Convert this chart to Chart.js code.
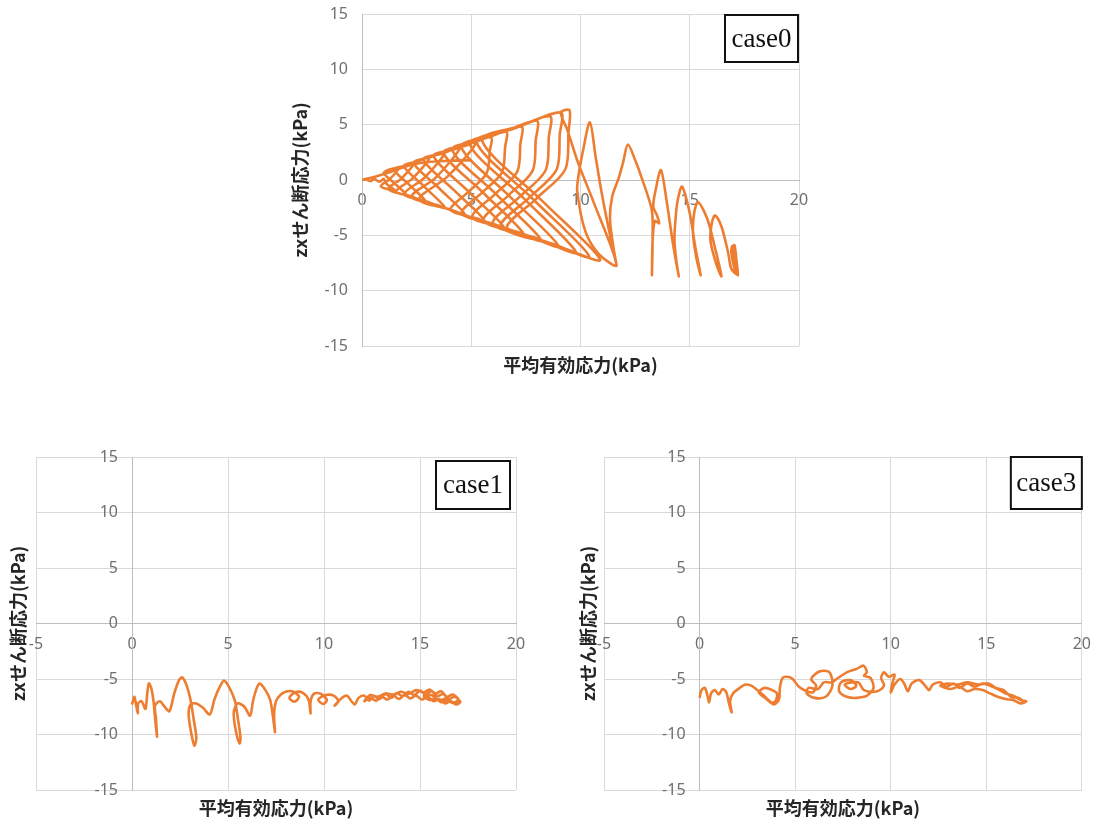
<!DOCTYPE html>
<html>
<head>
<meta charset="utf-8">
<script src="https://cdn.jsdelivr.net/npm/chart.js@4/dist/chart.umd.min.js"></script>
<style>
  html, body { margin: 0; padding: 0; background: #ffffff; }
  body { position: relative; width: 1102px; height: 828px; overflow: hidden; }
  canvas { position: absolute; }
</style>
</head>
<body>
<canvas id="chartCase0" width="540" height="390" style="left:280px;top:0px"></canvas>
<canvas id="chartCase1" width="560" height="388" style="left:0px;top:440px"></canvas>
<canvas id="chartCase3" width="532" height="388" style="left:570px;top:440px"></canvas>
<script>
// Stress paths: [mean effective stress p' (kPa), zx shear stress (kPa)]
const case0Path = [
  // initial state and first small cycles near p' = 17
  [17.1,-7.0],[16.95,-6.0],[17.05,-5.9],[17.15,-7.5],[17.2,-8.6],[17.05,-8.0],[16.9,-6.5],[16.95,-6.0],
  [17.1,-7.8],[17.15,-8.5],[16.9,-8.0],[16.75,-6.5],
  // growing cycles
  [16.45,-4.2],[16.16,-3.2],[16.0,-4.0],[15.95,-5.5],[16.2,-7.5],[16.45,-8.7],[16.2,-6.5],[15.8,-3.5],
  [15.38,-2.0],[15.2,-3.0],[15.15,-4.8],[15.3,-7.0],[15.5,-8.6],[15.25,-6.0],[15.0,-3.0],[14.65,-0.6],
  [14.45,-1.8],[14.35,-3.5],[14.3,-5.5],[14.4,-7.5],[14.5,-8.7],[14.25,-6.0],[13.95,-2.0],[13.68,0.9],
  [13.45,-0.8],[13.33,-2.4],[13.5,-3.2],[13.6,-3.9],[13.4,-3.7],[13.3,-5.5],[13.27,-8.6],[13.3,-5.0],
  [13.26,-2.7],[12.8,0.2],[12.5,1.8],[12.17,3.2],[11.95,1.6],[11.75,0.2],[11.45,-1.5],[11.35,-3.5],
  [11.5,-6.0],[11.65,-7.7],[11.3,-4.5],[11.0,-1.5],[10.7,2.0],[10.43,5.2],[10.1,2.5],[9.9,0.3],
  [9.85,-1.0],[10.2,-4.5],[10.8,-6.6],[11.65,-7.7],[10.6,-2.0],[9.9,1.5],[9.4,4.5],[9.1,6.1],
  [9.5,6.3],
  // butterfly cycles shrinking toward the origin
  [9.45,4.3],[9.3,0.95],[7.97,-1.7],[6.64,-4.38],[8.77,-5.8],[10.9,-7.2],[8.2,-1.8],[5.49,3.6],[7.3,4.9],[9.1,6.1],
  [9.05,4.1],[8.9,0.91],[7.63,-1.64],[6.35,-4.19],[8.4,-5.55],[10.4,-6.9],[7.82,-1.72],[5.24,3.45],[6.9,4.6],[8.6,5.75],
  [8.55,3.87],[8.4,0.86],[7.2,-1.55],[5.99,-3.95],[7.9,-5.2],[9.8,-6.55],[7.37,-1.6],[4.94,3.25],[6.5,4.35],[8.0,5.35],
  [7.95,3.6],[7.8,0.8],[6.68,-1.43],[5.56,-3.67],[7.3,-4.8],[9.0,-6.0],[6.77,-1.5],[4.54,3.0],[5.9,3.95],[7.3,4.8],
  [7.25,3.3],[7.1,0.73],[6.08,-1.3],[5.06,-3.34],[6.6,-4.35],[8.2,-5.45],[6.17,-1.35],[4.13,2.72],[5.4,3.6],[6.6,4.35],
  [6.55,3.0],[6.4,0.66],[5.48,-1.17],[4.56,-3.01],[6.0,-3.95],[7.4,-4.9],[5.57,-1.2],[3.73,2.45],[4.8,3.15],[5.9,3.85],
  [5.85,2.65],[5.7,0.59],[4.88,-1.05],[4.06,-2.68],[5.3,-3.5],[6.5,-4.3],[4.89,-1.07],[3.28,2.15],[4.2,2.75],[5.2,3.35],
  [3.91,0.3],[2.62,-1.75],[4.1,-2.7],[5.6,-3.7],[4.21,-0.92],[2.82,1.85],[3.7,2.4],[4.5,2.97],
  [3.39,0.24],[2.27,-1.5],[3.5,-2.3],[4.7,-3.1],[3.54,-0.77],[2.37,1.55],[3.1,2.05],[3.8,2.5],
  [2.86,0.2],[1.92,-1.27],[2.9,-1.9],[3.8,-2.5],[2.86,-0.62],[1.92,1.25],[2.5,1.65],[3.1,2.05],
  [2.33,0.17],[1.56,-1.03],[2.2,-1.45],[2.9,-1.9],[2.18,-0.47],[1.46,0.96],[1.9,1.25],[2.4,1.58],
  [1.8,0.13],[1.21,-0.8],[2.0,-1.3],[1.5,-0.32],[1.0,0.66],[1.7,1.1],
  [1.28,0.1],[0.86,-0.57],[1.5,-0.95],[1.1,-0.3],[1.0,0.1],[0.8,-0.15],[0.55,0.1],
  [0.4,-0.1],[0.2,0.05],[0.0,0.0],
  // final stage
  [0.6,0.3],[1.4,0.8],[2.4,1.45],[3.5,1.7],[5.0,1.8]
];

const case1Path = [
  [0.0,-7.3],[0.12,-6.6],[0.2,-7.2],[0.3,-8.1],[0.32,-7.2],[0.5,-7.0],[0.7,-7.7],[0.8,-6.2],
  [0.88,-5.4],[1.0,-5.8],[1.12,-7.0],[1.2,-8.5],[1.3,-10.2],[1.25,-8.6],[1.2,-7.4],[1.45,-7.0],
  [1.7,-7.5],[1.95,-7.9],[2.2,-6.3],[2.45,-5.1],[2.62,-4.85],[2.85,-5.6],[3.05,-6.9],[3.2,-8.5],
  [3.35,-10.3],[3.25,-11.0],[3.1,-10.0],[2.95,-8.2],[3.05,-7.3],[3.35,-7.2],[3.7,-7.6],[4.05,-8.2],
  [4.3,-6.8],[4.6,-5.6],[4.8,-5.15],[5.05,-5.7],[5.35,-6.9],[5.5,-8.4],[5.65,-10.3],[5.6,-10.8],
  [5.4,-9.6],[5.3,-8.0],[5.5,-7.2],[5.85,-7.5],[6.15,-8.3],[6.3,-7.0],[6.5,-5.8],[6.65,-5.4],
  [6.95,-6.0],[7.2,-6.9],[7.35,-8.5],[7.45,-9.8],[7.4,-8.3],[7.5,-7.0],[7.75,-6.4],[8.0,-6.15],
  [8.35,-6.1],[8.7,-6.6],[8.45,-7.05],[8.2,-6.7],[8.5,-6.2],[8.9,-6.25],[9.2,-6.9],[9.3,-8.1],
  [9.3,-7.0],[9.5,-6.3],[9.85,-6.35],[10.15,-6.9],[9.95,-7.25],[9.7,-6.85],[10.1,-6.45],[10.5,-6.5],
  [10.75,-7.0],[10.55,-7.4],[10.9,-6.75],[11.2,-6.5],[11.45,-7.05],[11.6,-7.3],[11.8,-6.7],[12.1,-6.5],
  [12.35,-6.95],[12.6,-6.55],[12.9,-6.8],[13.2,-6.35],[13.5,-6.7],[13.8,-6.3],[14.1,-6.55],[14.4,-6.15],
  [14.7,-6.45],[15.0,-6.05],[15.3,-6.4],[15.6,-6.1],[15.9,-6.55],[16.2,-6.35],[16.5,-6.8],[16.8,-6.6],
  [17.1,-7.05],[16.9,-7.3],[16.6,-7.0],[16.3,-7.2],[16.0,-6.8],[15.7,-7.0],[15.4,-6.6],[15.1,-6.85],
  [14.8,-6.5],[14.5,-6.75],[14.2,-6.45],[13.9,-6.8],[13.6,-6.5],[13.3,-6.85],[13.0,-6.6],[12.7,-6.95],
  [12.4,-6.7],[12.1,-7.0],[12.4,-6.45],[12.8,-6.6],[13.2,-6.3],[13.6,-6.4],[14.0,-6.15],[14.4,-6.35],
  [14.8,-6.0],[15.2,-6.2],[15.5,-5.95],[15.8,-6.3],[16.1,-6.1],[16.4,-6.6],[16.7,-6.4],[17.0,-6.85],
  [16.7,-7.15],[16.4,-6.9],[16.1,-7.1],[15.8,-6.75],[15.5,-6.9],[15.2,-6.5],[15.6,-6.45],[16.0,-6.95],
  [16.4,-6.75],[16.8,-7.2],[17.1,-6.9]
];

const case3Path = [
  [0.0,-6.7],[0.1,-6.0],[0.27,-5.8],[0.4,-6.4],[0.5,-7.1],[0.6,-6.3],[0.8,-6.0],[1.0,-6.4],
  [1.2,-5.9],[1.4,-6.2],[1.5,-6.9],[1.6,-7.6],[1.68,-8.0],[1.6,-7.0],[1.75,-6.3],[2.1,-5.8],
  [2.4,-5.5],[2.7,-5.6],[2.95,-5.9],[3.3,-6.4],[3.6,-6.9],[3.8,-7.15],[4.0,-6.9],[4.05,-6.3],
  [3.8,-6.0],[3.4,-5.8],[3.1,-6.2],[3.5,-6.8],[3.9,-7.3],[4.16,-6.8],[4.2,-5.8],[4.34,-4.9],
  [4.6,-4.8],[4.87,-5.0],[5.2,-5.7],[5.6,-6.1],[5.93,-6.2],[6.1,-5.6],[5.84,-5.0],[6.3,-4.3],
  [6.8,-4.4],[6.95,-5.6],[6.6,-6.6],[6.0,-6.7],[5.6,-6.3],[5.7,-5.8],[6.2,-5.9],[6.5,-5.3],
  [6.9,-5.3],[7.17,-5.0],[7.7,-4.4],[8.2,-4.1],[8.58,-3.8],[8.75,-4.4],[8.6,-4.7],[8.94,-4.9],
  [9.1,-5.8],[8.76,-6.5],[8.2,-6.7],[7.7,-6.6],[7.3,-6.1],[7.4,-5.3],[7.9,-5.1],[8.2,-5.6],
  [7.9,-5.9],[7.6,-5.5],[8.3,-5.3],[8.6,-6.0],[9.3,-6.1],[9.65,-5.6],[9.5,-4.9],[9.65,-4.4],
  [9.9,-4.8],[10.2,-4.6],[10.1,-5.3],[10.0,-6.2],[10.2,-5.5],[10.5,-5.0],[10.7,-5.4],[10.9,-6.1],
  [11.1,-5.4],[11.5,-5.1],[11.8,-5.6],[12.0,-6.0],[12.2,-5.5],[12.6,-5.3],[12.9,-5.7],[13.3,-5.4],
  [13.6,-5.8],[14.0,-5.4],[14.4,-5.7],[14.8,-5.4],[15.2,-5.6],[15.6,-5.9],[16.0,-6.3],[16.4,-6.5],
  [16.8,-6.9],[17.1,-7.0],[16.8,-7.2],[16.4,-6.9],[16.0,-6.8],[15.6,-6.6],[15.2,-6.3],[14.8,-6.0],
  [14.4,-5.9],[14.0,-6.1],[13.6,-5.7],[13.1,-5.9],[12.6,-5.6],[13.0,-5.4],[13.5,-5.5],[14.0,-5.3],
  [14.6,-5.5],[15.1,-5.4],[15.5,-5.8],[15.9,-6.0],[16.3,-6.6],[16.7,-6.7],[17.0,-7.1]
];

// Axis ranges, tick spacing and texts
const shearRange = [-15, 15];
const tickStep = 5;
const xTitle = '平均有効応力(kPa)';
const yTitle = 'zxせん断応力(kPa)';
const caseLabels = ['case0', 'case1', 'case3'];

const lineColor = '#ED7D31';
const gridColor = '#d9d9d9';
const axisColor = '#bfbfbf';
const tickColor = '#6f6f6f';
const tickFont = { family: '"Noto Sans", sans-serif', size: 16 };

// Value labels of a y axis that crosses at x = 0 are moved off the axis line
const yLabelGap = {
  id: 'yLabelGap',
  beforeDraw(chart) {
    const scale = chart.scales.y;
    if (!scale || typeof scale.getLabelItems !== 'function') return;
    scale.getLabelItems(chart.chartArea).forEach(item => {
      if (!item.__moved) {
        item.options.translation[0] -= 14;
        item.__moved = true;
      }
    });
  }
};

// Axis titles and the boxed case label, drawn on top of the plot
const labelPlugin = {
  id: 'caseLabels',
  afterDraw(chart, args, opts) {
    const { ctx, chartArea: a } = chart;
    ctx.save();
    ctx.fillStyle = '#262626';
    ctx.font = 'bold 18px "Noto Sans CJK JP", "Noto Sans", sans-serif';
    ctx.textAlign = 'center';
    ctx.textBaseline = 'middle';
    ctx.fillText(opts.xTitle, (a.left + a.right) / 2, a.bottom + opts.xTitleGap);
    ctx.save();
    ctx.translate(a.left - opts.yTitleGap, (a.top + a.bottom) / 2);
    ctx.rotate(-Math.PI / 2);
    ctx.fillText(opts.yTitle, 0, 0);
    ctx.restore();
    const b = opts.box;
    const bx = a.right - b.right - b.w;
    const by = a.top + b.top;
    ctx.fillStyle = '#ffffff';
    ctx.fillRect(bx, by, b.w, b.h);
    ctx.lineWidth = 2;
    ctx.strokeStyle = '#111111';
    ctx.strokeRect(bx, by, b.w, b.h);
    ctx.fillStyle = '#111111';
    ctx.font = '27px "Liberation Serif", "Times New Roman", serif';
    ctx.fillText(opts.caseLabel, bx + b.w / 2, by + b.h / 2 + 1);
    ctx.restore();
  }
};

function makeChart(id, path, xMin, xMax, padding, caseLabel, box, xTitleGap, yTitleGap) {
  return new Chart(document.getElementById(id), {
    type: 'scatter',
    data: {
      datasets: [{
        data: path.map(([p, q]) => ({ x: p, y: q })),
        showLine: true,
        borderColor: lineColor,
        borderWidth: 2.6,
        pointRadius: 0,
        tension: 0.3,
        fill: false
      }]
    },
    options: {
      responsive: false,
      animation: false,
      layout: { padding },
      plugins: {
        legend: { display: false },
        tooltip: { enabled: false },
        caseLabels: { xTitle, yTitle, caseLabel, box, xTitleGap, yTitleGap }
      },
      scales: {
        x: {
          type: 'linear', min: xMin, max: xMax,
          position: { y: 0 },
          ticks: { stepSize: tickStep, color: tickColor, maxRotation: 0, font: tickFont, padding: 11 },
          grid: { color: gridColor, lineWidth: 1, drawTicks: false },
          border: { color: axisColor, width: 1 }
        },
        y: {
          type: 'linear', min: shearRange[0], max: shearRange[1],
          position: { x: 0 },
          ticks: { stepSize: tickStep, color: tickColor, font: tickFont, padding: 0 },
          grid: { color: gridColor, lineWidth: 1, drawTicks: false },
          border: { color: axisColor, width: 1 }
        }
      }
    },
    plugins: [yLabelGap, labelPlugin]
  });
}

makeChart('chartCase0', case0Path, 0, 20, { left: 82, right: 21, top: 14, bottom: 44 },
  caseLabels[0], { right: 1, top: 1, w: 73, h: 47 }, 19, 62);
makeChart('chartCase1', case1Path, -5, 20, { left: 36, right: 44, top: 17, bottom: 38 },
  caseLabels[1], { right: 6, top: 4, w: 74, h: 48 }, 18, 18);
makeChart('chartCase3', case3Path, -5, 20, { left: 34, right: 18, top: 17, bottom: 38 },
  caseLabels[2], { right: 0, top: 0, w: 71, h: 52 }, 18, 16);
</script>
</body>
</html>
